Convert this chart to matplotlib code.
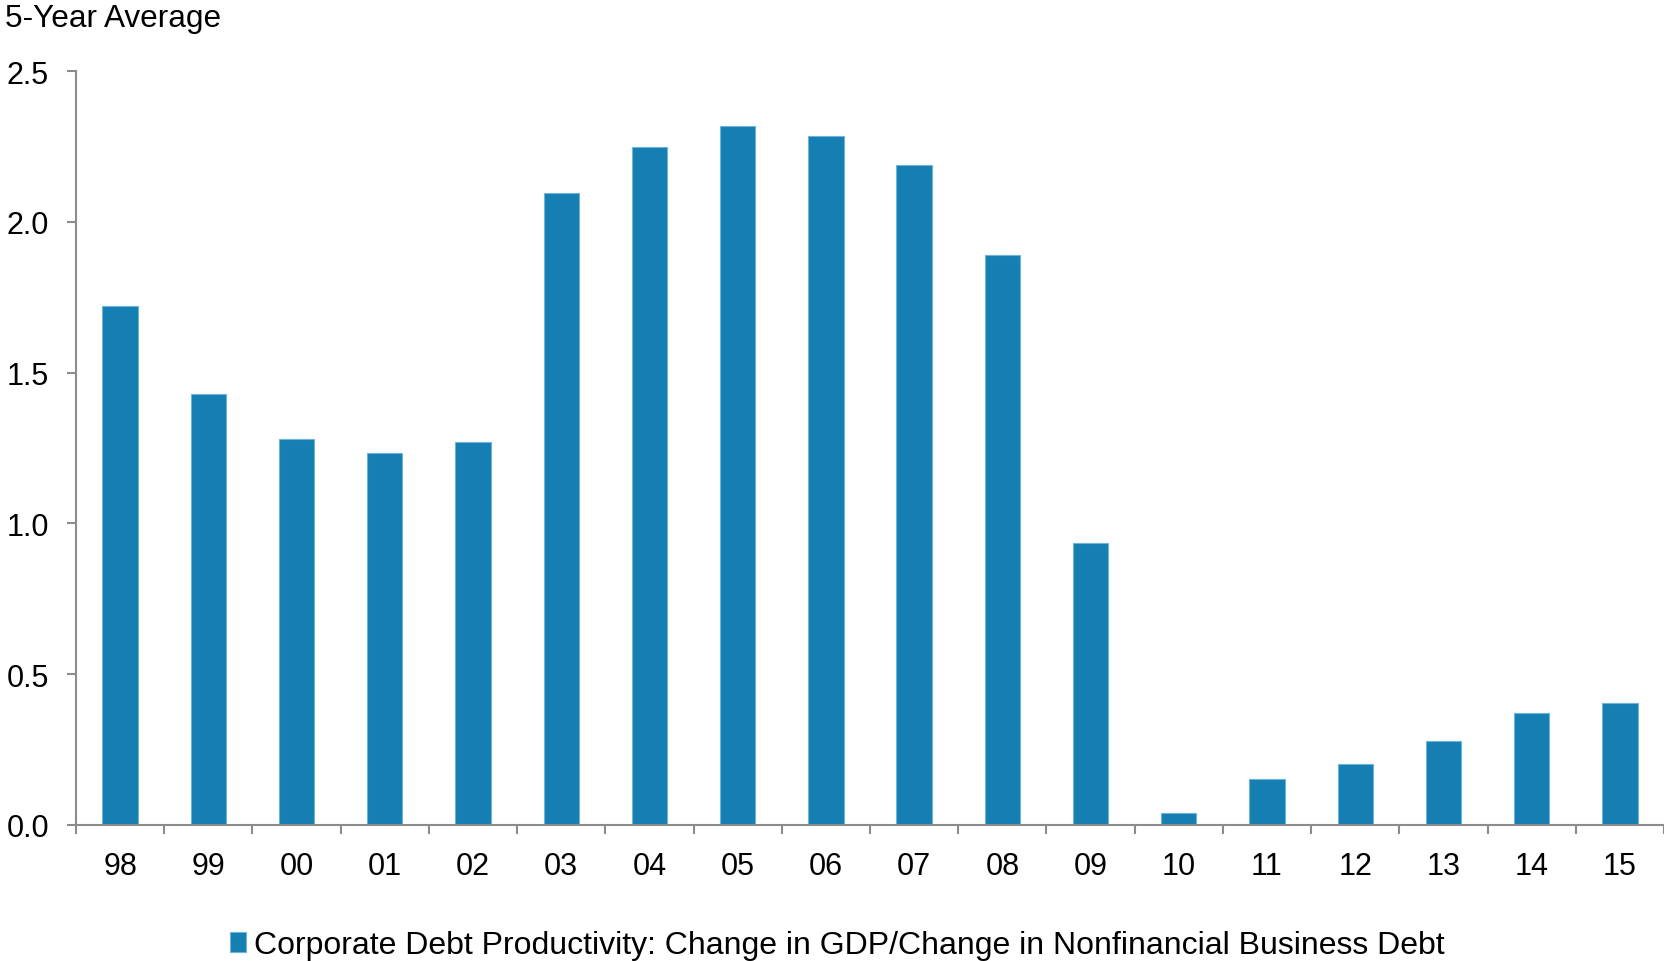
import matplotlib
matplotlib.use("Agg")
import matplotlib.pyplot as plt
import numpy as np

plt.rcParams['font.family'] = ['Liberation Sans', 'DejaVu Sans']

years = ["98", "99", "00", "01", "02", "03", "04", "05", "06",
         "07", "08", "09", "10", "11", "12", "13", "14", "15"]
productivity = [1.72, 1.43, 1.28, 1.235, 1.27, 2.095, 2.25, 2.317, 2.285,
                2.19, 1.89, 0.934, 0.038, 0.151, 0.200, 0.277, 0.371, 0.403]
y_ticks = [0.0, 0.5, 1.0, 1.5, 2.0, 2.5]
series_label = "Corporate Debt Productivity: Change in GDP/Change in Nonfinancial Business Debt"

bar_color = "#157EB2"
edge_color = "#6FB3D8"
axis_color = "#8C8C8C"

W, H = 1665, 962
fig = plt.figure(figsize=(W / 100, H / 100), dpi=100)
ax = fig.add_axes([76 / W, 1 - 825.7 / H, (1664 - 76) / W, (825.7 - 72.3) / H])

x = np.arange(len(years))
ax.bar(x, productivity, width=0.40, color=bar_color, edgecolor=edge_color,
       linewidth=0.8, label=series_label, zorder=2)

ax.set_xlim(-0.5, len(years) - 0.5)
ax.set_ylim(0, 2.5)
ax.set_yticks(y_ticks)
ax.set_yticklabels([f"{v:.1f}" for v in y_ticks])
ax.set_xticks(x)
ax.set_xticklabels(years)
ax.set_xticks(np.arange(len(years) + 1) - 0.5, minor=True)

for side in ("top", "right"):
    ax.spines[side].set_visible(False)
for side in ("left", "bottom"):
    ax.spines[side].set_color(axis_color)
    ax.spines[side].set_linewidth(1.5)

ax.tick_params(axis="y", direction="out", length=6.5, width=1.5, color=axis_color,
               labelsize=22, pad=13)
ax.tick_params(axis="x", which="major", length=0, labelsize=22, pad=19)
ax.tick_params(axis="x", which="minor", direction="out", length=6.5, width=1.5,
               color=axis_color)

fig.text(5 / W, 1 - 4 / H, "5-Year Average", ha="left", va="top", fontsize=22.7)

fig.legend(loc="lower center", bbox_to_anchor=(0.503, -0.016), frameon=False,
           fontsize=23, handlelength=0.5, handleheight=0.55, handletextpad=0.25,
           borderpad=0)

fig.savefig("out.png", dpi=100)
